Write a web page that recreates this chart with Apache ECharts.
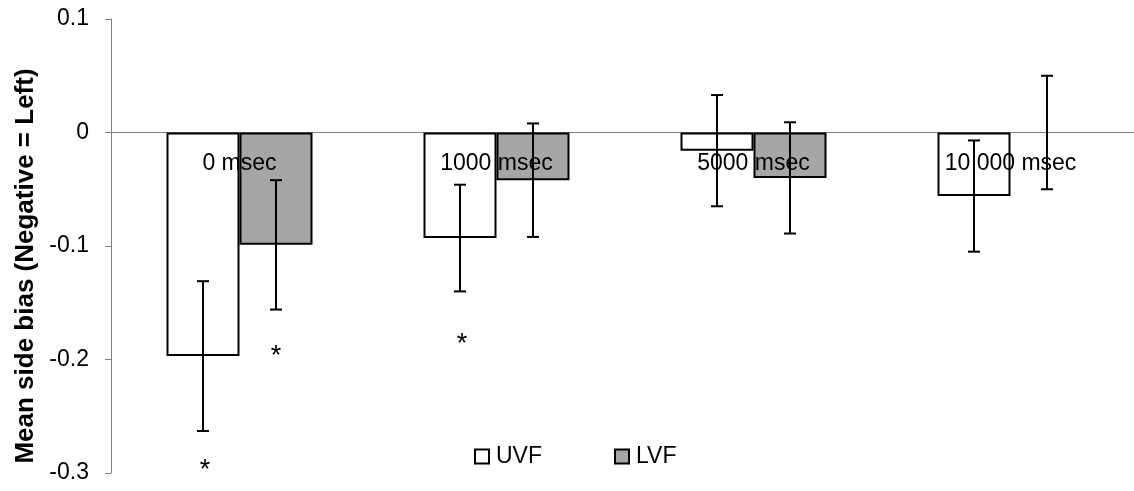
<!DOCTYPE html>
<html>
<head>
<meta charset="utf-8">
<script src="https://cdn.jsdelivr.net/npm/echarts@6/dist/echarts.min.js"></script>
<style>
  html, body { margin: 0; padding: 0; background: #fff; overflow: hidden; }
  #chart { width: 1134px; height: 491px; }
</style>
</head>
<body>
<div id="chart"></div>
<script>
// ---- data ----
const categories = ['0 msec', '1000 msec', '5000 msec', '10 000 msec'];
const seriesNames = ['UVF', 'LVF'];
const uvfMeans = [-0.197, -0.093, -0.016, -0.056];
const uvfErrors = [0.066, 0.047, 0.049, 0.049];
const lvfMeans = [-0.099, -0.042, -0.040, 0];
const lvfErrors = [0.057, 0.050, 0.049, 0.050];
// significance asterisks (value where the * sits), null = none
const uvfStars = [-0.2915, -0.181, null, null];
const lvfStars = [-0.191, null, null, null];
const yTicks = { min: -0.3, max: 0.1, interval: 0.1 };
const yTitle = 'Mean side bias (Negative = Left)';

// ---- chart ----
const FONT = '"Liberation Sans", Arial, sans-serif';
const BAR_W = 73;
const chart = echarts.init(document.getElementById('chart'), null, { renderer: 'canvas' });

function barData(arr) {
  return arr.map(v => v === 0 ? { value: v, itemStyle: { borderWidth: 0 } } : v);
}
function errData(means, errs) {
  return means.map((m, i) => [i, m, errs[i]]);
}
function starData(stars) {
  const out = [];
  stars.forEach((s, i) => { if (s !== null) out.push([i, s]); });
  return out;
}
function errRender(offset) {
  return function (params, api) {
    const i = api.value(0), m = api.value(1), e = api.value(2);
    const top = api.coord([i, m + e]);
    const bot = api.coord([i, m - e]);
    const cx = top[0] + offset;
    const st = { stroke: '#000', lineWidth: 2 };
    return {
      type: 'group',
      children: [
        { type: 'line', shape: { x1: cx, y1: top[1], x2: cx, y2: bot[1] }, style: st },
        { type: 'line', shape: { x1: cx - 6, y1: top[1], x2: cx + 6, y2: top[1] }, style: st },
        { type: 'line', shape: { x1: cx - 6, y1: bot[1], x2: cx + 6, y2: bot[1] }, style: st }
      ]
    };
  };
}
function starRender(offset) {
  return function (params, api) {
    const p = api.coord([api.value(0), api.value(1)]);
    return {
      type: 'text',
      x: p[0] + offset,
      y: p[1] + 7,
      style: { text: '*', font: '27px ' + FONT, fill: '#000', align: 'center', verticalAlign: 'middle' }
    };
  };
}
function catLabelRender(params, api) {
  const p = api.coord([api.value(0), 0]);
  return {
    type: 'text',
    x: p[0],
    y: p[1] + 31,
    style: { text: categories[api.value(0)], font: '23px ' + FONT, fill: '#000', align: 'center', verticalAlign: 'middle' }
  };
}

const option = {
  animation: false,
  backgroundColor: '#fff',
  grid: { left: 111, right: -5, top: 19, bottom: 18, containLabel: false, outerBoundsMode: 'none' },
  legend: {
    data: seriesNames,
    left: 469,
    top: 440,
    itemWidth: 14,
    itemHeight: 14,
    itemGap: 72,
    icon: 'rect',
    textStyle: { fontFamily: FONT, fontSize: 23, color: '#000', padding: [0, 0, 0, 2] }
  },
  xAxis: {
    type: 'category',
    data: categories,
    axisLine: { onZero: true, lineStyle: { color: '#7f7f7f', width: 1 } },
    axisTick: { show: false },
    splitLine: { show: false },
    axisLabel: { show: false }
  },
  yAxis: {
    type: 'value',
    min: yTicks.min,
    max: yTicks.max,
    interval: yTicks.interval,
    axisLine: { show: true, onZero: false, lineStyle: { color: '#7f7f7f', width: 1 } },
    axisTick: { show: true, length: 6, lineStyle: { color: '#7f7f7f' } },
    splitLine: { show: false },
    axisLabel: {
      margin: 22, fontFamily: FONT, fontSize: 23, color: '#000',
      formatter: v => String(Math.round(v * 10) / 10)
    }
  },
  graphic: [{
    type: 'text',
    x: 26,
    y: 266,
    rotation: Math.PI / 2,
    style: { text: yTitle, font: 'bold 26px ' + FONT, fill: '#000', align: 'center', verticalAlign: 'middle' }
  }],
  series: [
    {
      name: 'UVF', type: 'bar', data: barData(uvfMeans), barWidth: BAR_W, barGap: '0%', z: 2,
      itemStyle: { color: '#ffffff', borderColor: '#000', borderWidth: 2 }
    },
    {
      name: 'LVF', type: 'bar', data: barData(lvfMeans), barWidth: BAR_W, barGap: '0%', z: 2,
      itemStyle: { color: '#a6a6a6', borderColor: '#000', borderWidth: 2 }
    },
    { name: 'labels', type: 'custom', z: 5, data: categories.map((c, i) => [i, 0]), renderItem: catLabelRender, silent: true },
    { name: 'UVF err', type: 'custom', z: 10, data: errData(uvfMeans, uvfErrors), renderItem: errRender(-BAR_W / 2) },
    { name: 'LVF err', type: 'custom', z: 10, data: errData(lvfMeans, lvfErrors), renderItem: errRender(BAR_W / 2) },
    { name: 'UVF sig', type: 'custom', z: 10, data: starData(uvfStars), renderItem: starRender(-BAR_W / 2 + 2) },
    { name: 'LVF sig', type: 'custom', z: 10, data: starData(lvfStars), renderItem: starRender(BAR_W / 2) }
  ]
};
chart.setOption(option);
</script>
</body>
</html>
